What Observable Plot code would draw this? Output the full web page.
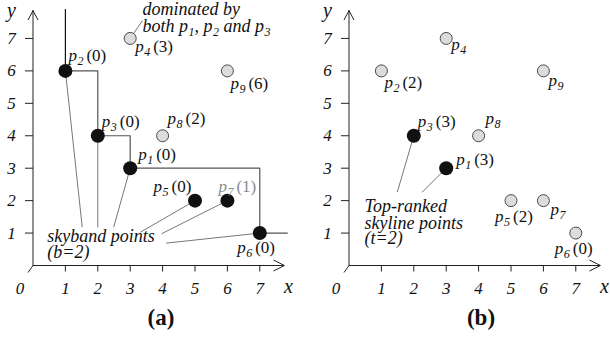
<!DOCTYPE html>
<html><head><meta charset="utf-8">
<script src="https://cdn.jsdelivr.net/npm/d3@7"></script>
<script src="https://cdn.jsdelivr.net/npm/@observablehq/plot@0.6"></script>
<style>
body{margin:0;background:#fff;}
#fig{position:relative;width:610px;height:337px;overflow:hidden;background:#fff;}
.panel{position:absolute;top:0;width:305px;height:300px;}
#fig svg text, #fig svg tspan{font-family:"Liberation Serif","Times New Roman","DejaVu Serif",serif !important;}
.cap{position:absolute;top:305px;font-family:"Liberation Serif","Times New Roman",serif;font-weight:bold;font-size:23px;line-height:26px;transform:translateX(-50%);color:#111;}
</style></head><body>
<div id="fig"></div>
<script>
// ---------- data ----------
const pointNames = ["p1","p2","p3","p4","p5","p6","p7","p8","p9"];
const pointX     = [3, 1, 2, 3, 5, 7, 6, 4, 6];
const pointY     = [3, 6, 4, 7, 2, 1, 2, 4, 6];
const countsA    = [0, 0, 0, 3, 0, 0, 1, 2, 6];      // panel (a) dominance counts
const countsB    = [3, 2, 3, null, 2, 0, null, null, null]; // panel (b) counts
const skybandA   = ["p1","p2","p3","p5","p6","p7"];  // black points in (a)
const topRankedB = ["p1","p3"];                       // black points in (b)
const skylineA   = ["p2","p3","p1","p6"];             // staircase in (a)
const xTicks = [1,2,3,4,5,6,7];
const yTicks = [1,2,3,4,5,6,7];
const originLabel = "0";
const captions = ["(a)","(b)"];
const noteDominated = ["dominated by", "both p1, p2 and p3"];
const noteSkyband = ["skyband points", "(b=2)"];
const noteTopRanked = ["Top-ranked", "skyline points", "(t=2)"];
const dominatedTarget = "p4";
const skybandTargets = ["p2","p3","p1","p5","p7","p6"];
const topRankedTargets = ["p3","p1"];

// ---------- layout (annotation anchors, in chart units / px offsets) ----------
const X_END = 7.76, Y_END = 7.86, STAIR_RIGHT = 7.85, STAIR_TOP = 7.89;
const dominatedAnchor = [[3.38, 7.71], [3.38, 7.21]];
const dominatedLeaderStart = [3.38, 7.55];
const skybandAnchor = [[0.44, 0.71], [0.44, 0.22]];
const skybandLeaderStarts = [[1.52,1.18],[2.0,1.18],[2.49,1.18],[3.32,1.03],[3.97,0.98],[4.11,0.69]];
const topAnchor = [[0.48, 1.66], [0.48, 1.14], [0.48, 0.65]];
const topLeaderStarts = [[1.49,2.26],[2.26,2.26]];
const labelOffsetA = {p1:[8,-8], p2:[3,-10], p3:[4,-9], p4:[5,14], p5:[-41.5,-9], p6:[-22.6,20.4], p7:[-9,-9], p8:[5,-12], p9:[3,18]};
const labelOffsetB = {p1:[10,-3], p2:[3,17], p3:[4,-9], p4:[5,12], p5:[-16,21], p6:[-21,21], p7:[7,14], p8:[7,-12], p9:[5,15]};

const SERIF = "Liberation Serif";
const tickDown  = {draw(c){c.moveTo(0,0);c.lineTo(0,6);}};
const tickLeft  = {draw(c){c.moveTo(0,0);c.lineTo(-8,0);}};
const arrowUp   = {draw(c){c.moveTo(-5,9.5);c.lineTo(0,0);c.lineTo(5,9.5);}};
const arrowRight= {draw(c){c.moveTo(-11,-5.5);c.lineTo(0,0);c.lineTo(-11,5.5);}};
const originStub= {draw(c){c.moveTo(0,0);c.lineTo(-5,7);}};

const points = pointNames.map((n,i)=>({name:n, x:pointX[i], y:pointY[i], a:countsA[i], b:countsB[i]}));
const byName = Object.fromEntries(points.map(p=>[p.name,p]));

function axisMarks(){
  const ax = "#222";
  return [
    Plot.ruleY([0], {x1: 0, x2: X_END, stroke: ax, strokeWidth: 1}),
    Plot.ruleX([0], {y1: 0, y2: Y_END, stroke: ax, strokeWidth: 1}),
    Plot.dot([0], {x: X_END, y: 0, symbol: arrowRight, fill: "none", stroke: ax, strokeWidth: 1}),
    Plot.dot([0], {x: 0, y: Y_END, symbol: arrowUp, fill: "none", stroke: ax, strokeWidth: 1}),
    Plot.dot([0], {x: 0, y: 0, symbol: originStub, fill: "none", stroke: ax, strokeWidth: 1}),
    Plot.dot(xTicks, {x: d=>d, y: 0, symbol: tickDown, fill: "none", stroke: ax, strokeWidth: 1}),
    Plot.dot(yTicks, {x: 0, y: d=>d, symbol: tickLeft, fill: "none", stroke: ax, strokeWidth: 1}),
    Plot.text(xTicks, {x: d=>d, y: 0, text: d=>String(d), dy: 23, fontFamily: SERIF, fontStyle: "italic", fontSize: 17, fill: "#111"}),
    Plot.text(yTicks, {x: 0, y: d=>d, text: d=>String(d), dx: -21.5, fontFamily: SERIF, fontStyle: "italic", fontSize: 17, fill: "#111"}),
    Plot.text([originLabel], {x: 0, y: 0, text: d=>d, dx: -13, dy: 23, fontFamily: SERIF, fontStyle: "italic", fontSize: 17, fill: "#111"}),
    Plot.text(["x"], {x: X_END, y: 0, text: d=>d, dx: 4, dy: 21, fontFamily: SERIF, fontStyle: "italic", fontSize: 20, fill: "#111"}),
    Plot.text(["y"], {x: 0, y: Y_END, text: d=>d, dx: -21.5, dy: 0, fontFamily: SERIF, fontStyle: "italic", fontSize: 20, fill: "#111"})
  ];
}

function noteMarks(lines, anchors){
  return lines.map((s,i)=>Plot.text([s], {x: anchors[i][0], y: anchors[i][1], text: d=>d, textAnchor: "start", lineAnchor: "bottom",
    fontFamily: SERIF, fontStyle: "italic", fontSize: 18, fill: "#111"}));
}

function leaderMarks(starts, targets){
  const data = targets.map((t,i)=>({x1: starts[i][0], y1: starts[i][1], x2: byName[t].x, y2: byName[t].y}));
  return Plot.link(data, {x1:"x1", y1:"y1", x2:"x2", y2:"y2", stroke: "#666", strokeWidth: 0.9});
}

function labelMarks(countKey, offsets, dimmed){
  return points.map(p=>{
    const o = offsets[p.name];
    const c = p[countKey];
    return Plot.text([p], {x:"x", y:"y", text: d=> d.name + (c==null ? "" : "(" + c + ")"), dx: o[0], dy: o[1],
      textAnchor: "start", lineAnchor: "bottom", fontFamily: SERIF, fontStyle: "italic", fontSize: 17,
      fill: dimmed.includes(p.name) ? "#8c8c8c" : "#111"});
  });
}

function dotMarks(dark){
  return [
    Plot.dot(points.filter(p=>!dark.includes(p.name)), {x:"x", y:"y", r: 6, fill: "#dcdcdc", stroke: "#4a4a4a", strokeWidth: 1}),
    Plot.dot(points.filter(p=>dark.includes(p.name)), {x:"x", y:"y", r: 7, fill: "#111", stroke: "none"})
  ];
}

// Turn "p2(0)" into italic p + subscript 2 + upright (0); notes keep italics.
function subscriptify(svg){
  const NS = "http://www.w3.org/2000/svg";
  svg.querySelectorAll("text").forEach(t=>{
    const s = t.textContent;
    if (!/p\d/.test(s)) return;
    const isLabel = /^p\d(\(\d\))?$/.test(s);
    const parts = s.split(/(p\d)/).filter(x=>x);
    t.textContent = "";
    let shifted = false;
    const add = (txt, attrs)=>{ const e = document.createElementNS(NS, "tspan"); for (const k in attrs) if (attrs[k]!=null) e.setAttribute(k, attrs[k]); e.textContent = txt; t.appendChild(e); };
    for (const part of parts){
      const m = /^p(\d)$/.exec(part);
      if (m){
        add("p", {"font-style":"italic", dy: shifted ? -4 : null});
        add(m[1], {"font-size": 12, "font-style":"italic", dy: 4, dx: 0.5});
        shifted = true;
      } else {
        add(part, {"font-style": isLabel ? "normal" : "italic", dy: shifted ? -4 : null, dx: isLabel ? 3 : null});
        shifted = false;
      }
    }
  });
}

function panel(opts){
  const svg = Plot.plot({
    width: 305, height: 300,
    marginTop: 5.5, marginBottom: 35, marginLeft: opts.ml, marginRight: opts.mr,
    x: {domain: [0, 8], axis: null},
    y: {domain: [0, 8], axis: null},
    style: {background: "#fff", overflow: "visible"},
    marks: opts.marks
  });
  subscriptify(svg);
  return svg;
}

// ---------- panel (a) ----------
const stairPts = skylineA.map(n=>byName[n]);
const stairData = [...stairPts, {x: STAIR_RIGHT, y: stairPts[stairPts.length-1].y}];
const svgA = panel({ml: 32.5, mr: 13.3, marks: [
  Plot.ruleX([stairPts[0]], {x: "x", y1: "y", y2: STAIR_TOP, stroke: "#111", strokeWidth: 1.2}),
  Plot.line(stairData, {x: "x", y: "y", curve: "step-after", stroke: "#555", strokeWidth: 1.2}),
  leaderMarks(skybandLeaderStarts, skybandTargets),
  Plot.link([byName[dominatedTarget]], {x1: "x", y1: "y", x2: dominatedLeaderStart[0], y2: dominatedLeaderStart[1], stroke: "#666", strokeWidth: 0.9}),
  ...axisMarks(),
  ...dotMarks(skybandA),
  ...labelMarks("a", labelOffsetA, ["p7"]),
  ...noteMarks(noteDominated, dominatedAnchor),
  ...noteMarks(noteSkyband, skybandAnchor)
]});

// ---------- panel (b) ----------
const svgB = panel({ml: 43.5, mr: 2.3, marks: [
  leaderMarks(topLeaderStarts, topRankedTargets),
  ...axisMarks(),
  ...dotMarks(topRankedB),
  ...labelMarks("b", labelOffsetB, []),
  ...noteMarks(noteTopRanked, topAnchor)
]});

const fig = document.getElementById("fig");
[svgA, svgB].forEach((s,i)=>{
  const d = document.createElement("div");
  d.className = "panel"; d.style.left = (i*305) + "px";
  d.appendChild(s); fig.appendChild(d);
});
const capPos = [161, 481];
captions.forEach((c,i)=>{
  const d = document.createElement("div");
  d.className = "cap"; d.style.left = capPos[i] + "px"; d.textContent = c;
  fig.appendChild(d);
});
</script>
</body></html>
